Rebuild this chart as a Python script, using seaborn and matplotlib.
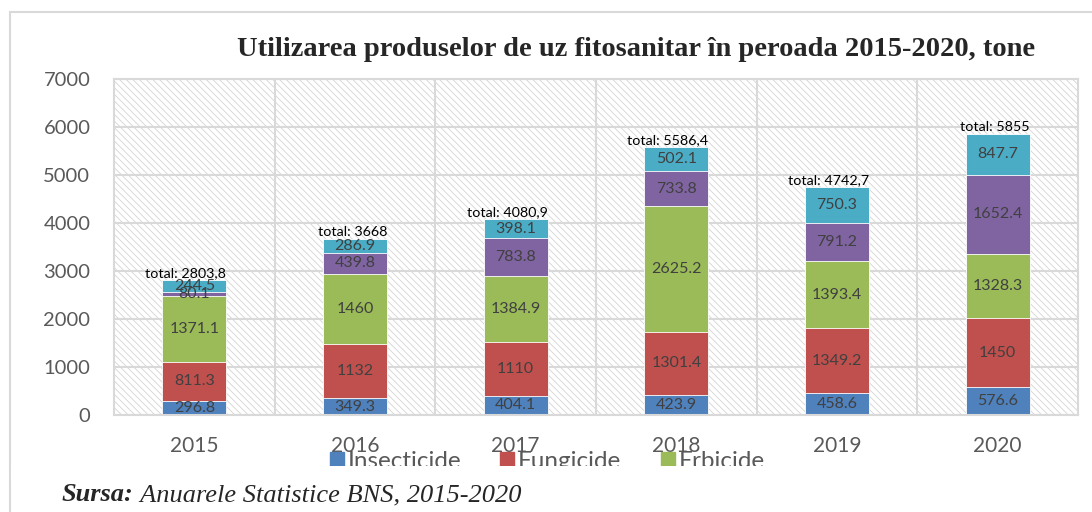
import pandas as pd
import matplotlib.pyplot as plt
from matplotlib.patches import Rectangle
from matplotlib.lines import Line2D
import seaborn as sns
import numpy as np

years = ['2015', '2016', '2017', '2018', '2019', '2020']
insecticide = [296.8, 349.3, 404.1, 423.9, 458.6, 576.6]
fungicide = [811.3, 1132, 1110, 1301.4, 1349.2, 1450]
erbicide = [1371.1, 1460, 1384.9, 2625.2, 1393.4, 1328.3]
alte = [80.1, 439.8, 783.8, 733.8, 791.2, 1652.4]
altele2 = [244.5, 286.9, 398.1, 502.1, 750.3, 847.7]
total_labels = ['total: 2803,8', 'total: 3668', 'total: 4080,9',
                'total: 5586,4', 'total: 4742,7', 'total: 5855']

series = ['Insecticide', 'Fungicide', 'Erbicide', 'Alte', 'Altele']
colors = ['#4F81BD', '#C0504D', '#9BBB59', '#8064A2', '#4BACC6']

df = pd.DataFrame({'an': years, 'Insecticide': insecticide, 'Fungicide': fungicide,
                   'Erbicide': erbicide, 'Alte': alte, 'Altele': altele2})
cum = df[series].cumsum(axis=1)

sns.set_theme(style='white')
plt.rcParams['font.family'] = ['Lato', 'DejaVu Sans']
plt.rcParams['hatch.linewidth'] = 0.6

fig = plt.figure(figsize=(10.92, 5.12), dpi=100)
ax = fig.add_axes([114/1092, 1 - 415/512, 964/1092, 336/512])

# hatched plot area
ax.add_patch(Rectangle((0, 0), 1, 1, transform=ax.transAxes, facecolor='white',
                       edgecolor='#d4d4d4', hatch='\\' * 5, lw=0, zorder=0))

# stacked bars: draw cumulative sums from top series down
for s, c in reversed(list(zip(series, colors))):
    sns.barplot(x=df['an'], y=cum[s], color=c, saturation=1, width=0.4,
                edgecolor='white', linewidth=0.6, ax=ax, zorder=2)

# segment labels
for i in range(len(years)):
    prev = 0
    for s in series:
        v = df.loc[i, s]
        ax.text(i, prev + v / 2, f'{v:g}', ha='center', va='center',
                fontsize=11.5, color='#404040', zorder=4)
        prev += v
    ax.text(i + 0.2, prev + 20, total_labels[i], ha='right', va='bottom',
            fontsize=10.3, color='black', zorder=4)

ax.set_ylim(0, 7000)
ax.set_xlim(-0.5, 5.5)
ax.set_yticks(np.arange(0, 7001, 1000))
ax.set_xticks(np.arange(0.5, 5.5, 1), minor=True)
ax.set_axisbelow(True)
ax.grid(axis='y', which='major', color='#d9d9d9', lw=1.5)
ax.grid(axis='x', which='minor', color='#d9d9d9', lw=1.5)
ax.grid(axis='x', which='major', visible=False)
ax.tick_params(axis='both', which='both', length=0, colors='#595959')
ax.tick_params(axis='y', pad=17, labelsize=14.5)
ax.tick_params(axis='x', pad=15, labelsize=15)
ax.set_xlabel('')
ax.set_ylabel('')
for sp in ax.spines.values():
    sp.set_color('#d9d9d9')
    sp.set_linewidth(1.5)

fig.text(636/1092, 1 - 49/512,
         'Utilizarea produselor de uz fitosanitar în peroada 2015-2020, tone',
         ha='center', va='center', fontsize=20.5, fontweight='bold',
         family=['Liberation Serif', 'DejaVu Serif'])

# legend (only the first three series shown)
handles = [Line2D([], [], marker='s', ls='', markersize=10, color=c) for c in colors[:3]]
fig.legend(handles, series[:3], loc='center', bbox_to_anchor=(547/1092, 1 - 461/512),
           ncol=3, frameon=False, fontsize=17.5, labelcolor='#595959',
           handlelength=0.6, handletextpad=0.15, columnspacing=1.6)

# white band clipping the legend
fig.patches.append(Rectangle((11/1092, 1 - 482/512), 1, 16/512, transform=fig.transFigure,
                             facecolor='white', edgecolor='none', zorder=10))

# outer chart border
fig.add_artist(Line2D([10/1092, 10/1092], [0, 1 - 12/512], color='#d9d9d9', lw=1.5))
fig.add_artist(Line2D([10/1092, 1], [1 - 12/512, 1 - 12/512], color='#d9d9d9', lw=1.5))

t1 = fig.text(62/1092, 1 - 501/512, 'Sursa:', ha='left', va='baseline', fontsize=19,
              fontweight='bold', fontstyle='italic', family='Liberation Serif', zorder=11)
ax.annotate(' Anuarele Statistice BNS, 2015-2020', xy=(1, 0), xycoords=t1,
            ha='left', va='bottom', fontsize=19, fontstyle='italic',
            family='Liberation Serif', annotation_clip=False, zorder=11)

fig.savefig('out.png', dpi=100)
